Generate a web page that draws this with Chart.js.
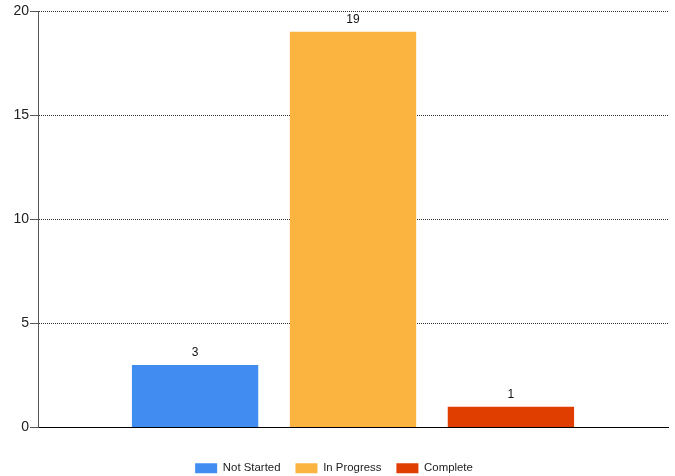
<!DOCTYPE html>
<html>
<head>
<meta charset="utf-8">
<script src="https://cdn.jsdelivr.net/npm/chart.js@4/dist/chart.umd.min.js"></script>
<style>
  html, body { margin: 0; padding: 0; background: #fff; }
  #wrap { width: 675px; height: 476px; }
</style>
</head>
<body>
<div id="wrap"><canvas id="c" width="675" height="476"></canvas></div>
<script>
const categories = [''];
const seriesNames = ['Not Started', 'In Progress', 'Complete'];
const seriesValues = [[3], [19], [1]];
const seriesColors = ['#418CF0', '#FCB441', '#E03D00'];
const yTicks = [0, 5, 10, 15, 20];

const FONT = '"Liberation Sans", Arial, sans-serif';

const valueLabels = {
  id: 'valueLabels',
  afterLayout(chart) {
    if (chart.legend) {
      chart.legend.top += 8;
      chart.legend.bottom += 8;
    }
  },
  afterDatasetsDraw(chart) {
    const ctx = chart.ctx;
    ctx.save();
    ctx.font = '12px ' + FONT;
    ctx.fillStyle = '#111';
    ctx.textAlign = 'center';
    ctx.textBaseline = 'middle';
    chart.data.datasets.forEach((ds, i) => {
      const meta = chart.getDatasetMeta(i);
      meta.data.forEach((el, j) => {
        ctx.fillText(String(ds.data[j]), el.x, el.y - 12);
      });
    });
    ctx.restore();
  }
};

new Chart(document.getElementById('c'), {
  type: 'bar',
  data: {
    labels: categories,
    datasets: seriesNames.map((name, i) => ({
      label: name,
      data: seriesValues[i],
      backgroundColor: seriesColors[i],
      borderWidth: 0,
      categoryPercentage: 0.752,
      barPercentage: 0.8
    }))
  },
  options: {
    responsive: false,
    animation: false,
    devicePixelRatio: 1,
    layout: { padding: { top: 11, right: 7, left: 0, bottom: 0 } },
    plugins: {
      legend: {
        position: 'bottom',
        labels: {
          boxWidth: 22,
          boxHeight: 10,
          padding: 15,
          color: '#222',
          font: { family: FONT, size: 11.4 }
        }
      },
      tooltip: { enabled: false }
    },
    scales: {
      x: {
        ticks: { display: false },
        grid: { display: false, drawTicks: false },
        border: { display: true, color: '#000', width: 1 },
        afterFit(scale) { scale.height = 12; }
      },
      y: {
        min: 0,
        max: 20,
        afterBuildTicks(scale) { scale.ticks = yTicks.map(v => ({ value: v })); },
        ticks: {
          color: '#222',
          padding: 1,
          font: { family: FONT, size: 14 }
        },
        grid: {
          color: '#333',
          tickLength: 8,
          tickColor: '#555',
          tickBorderDash: []
        },
        border: { display: true, color: '#555', width: 1, dash: [1, 1] },
        afterFit(scale) { scale.width = 38; }
      }
    }
  },
  plugins: [valueLabels]
});
</script>
</body>
</html>
